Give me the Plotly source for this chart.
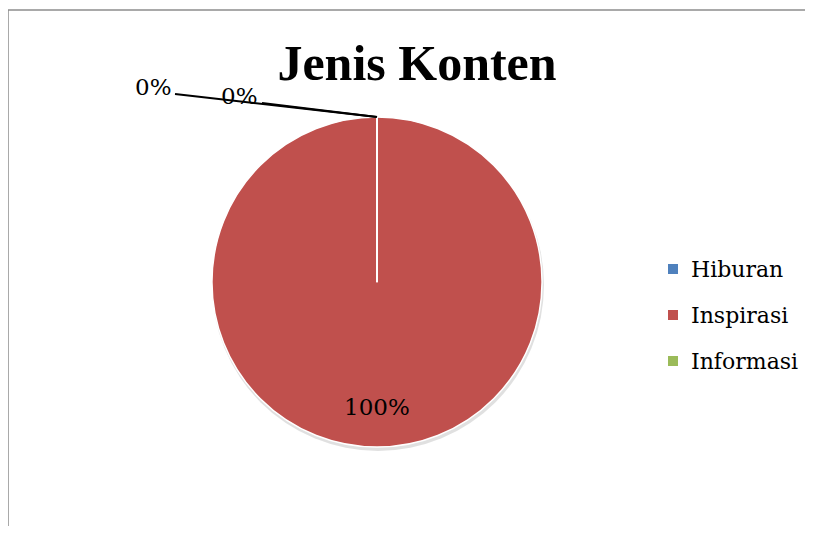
import math

import plotly.graph_objects as go

labels = ["Hiburan", "Inspirasi", "Informasi"]
values = [0, 100, 0]
colors = ["#4F81BD", "#C0504D", "#9BBB59"]
title = "Jenis Konten"

# page body keeps an 8px margin, so the figure starts at (8, 8)
OFF = 8
W, H = 813 - OFF, 534 - 2 * OFF


def px(x):
    return (x - OFF) / W


def py(y):
    return 1 - (y - OFF) / H


# pie box in page pixels
cx, cy, r = 377, 282, 165

fig = go.Figure()
fig.add_trace(go.Pie(
    labels=labels, values=values, sort=False, direction="clockwise",
    rotation=0, textinfo="none", hoverinfo="label+percent",
    marker=dict(colors=colors, line=dict(color="white", width=1.5)),
    domain=dict(x=[px(cx - r), px(cx + r)], y=[py(cy + r), py(cy - r)]),
    showlegend=False,
))

shapes = [
    # soft shadow under the pie
    dict(type="circle", xref="paper", yref="paper", layer="below",
         x0=px(cx - r), x1=px(cx + r + 2), y0=py(cy + r + 4), y1=py(cy - r + 2),
         fillcolor="rgba(0,0,0,0.12)", line=dict(width=0)),
    # chart frame
    dict(type="line", xref="paper", yref="paper", x0=px(8), x1=px(8), y0=py(10), y1=py(540),
         line=dict(color="#8c8c8c", width=1.5)),
    dict(type="line", xref="paper", yref="paper", x0=px(8), x1=px(820), y0=py(10), y1=py(10),
         line=dict(color="#8c8c8c", width=1.5)),
]
annotations = []


def label(x, y, text, size, anchor="center"):
    annotations.append(dict(x=px(x), y=py(y), xref="paper", yref="paper", text=text,
                            xanchor=anchor, yanchor="middle", showarrow=False,
                            font=dict(family="DejaVu Serif", size=size, color="black")))


total = sum(values)
cum = 0
zero_spots = [(153, 87, 175, 94), (240, 96, 262, 103)]  # label x,y and leader start
zi = 0
for lab, v in zip(labels, values):
    pct = f"{round(100 * v / total)}%"
    mid = (cum + v / 2) / total * 2 * math.pi
    cum += v
    if v > 0:
        label(cx + 0.76 * r * math.sin(mid), cy - 0.76 * r * math.cos(mid), pct, 23)
        if v == total:
            shapes.append(dict(type="line", xref="paper", yref="paper", x0=px(cx), y0=py(cy),
                               x1=px(cx), y1=py(cy - r), line=dict(color="white", width=2)))
    else:
        lx, ly, sx, sy = zero_spots[zi]
        zi += 1
        ex = cx + r * math.sin(mid)
        ey = cy - r * math.cos(mid)
        label(lx, ly, pct, 23)
        shapes.append(dict(type="line", xref="paper", yref="paper", x0=px(sx), y0=py(sy),
                           x1=px(ex), y1=py(ey), line=dict(color="black", width=2)))

# legend
for i, (lab, c) in enumerate(zip(labels, colors)):
    yy = 269 + 46 * i
    shapes.append(dict(type="rect", xref="paper", yref="paper", x0=px(668), x1=px(678),
                       y0=py(yy + 5), y1=py(yy - 5), fillcolor=c, line=dict(width=0)))
    label(689, yy, lab, 22, anchor="left")

fig.update_layout(
    width=W, height=H,
    margin=dict(l=0, r=0, t=0, b=0),
    paper_bgcolor="white", plot_bgcolor="white",
    title=dict(text=f"<b>{title}</b>", x=px(417), y=py(62), xanchor="center", yanchor="middle",
               font=dict(family="Liberation Serif", size=50, color="black")),
    shapes=shapes, annotations=annotations,
)

fig.write_html("out.html")
